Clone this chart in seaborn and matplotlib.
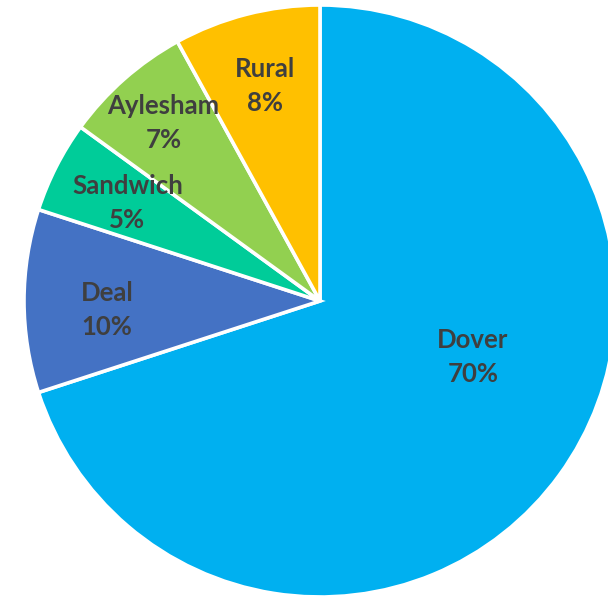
import matplotlib
matplotlib.use("Agg")
import matplotlib.pyplot as plt
import seaborn as sns
import numpy as np

categories = ["Dover", "Deal", "Sandwich", "Aylesham", "Rural"]
values = [70, 10, 5, 7, 8]
colors = ["#00B0F0", "#4472C4", "#00CC99", "#92D050", "#FFC000"]

sns.set_theme(style="white")
plt.rcParams['font.family'] = ['Lato', 'DejaVu Sans']

fig = plt.figure(figsize=(6.08, 6.0), dpi=100)
ax = fig.add_axes([0, 0, 1, 1])
wedges, _ = ax.pie(values, colors=colors, startangle=90, counterclock=False,
                   wedgeprops=dict(edgecolor="white", linewidth=2.6))

# label placement (radius fraction, angle offset in degrees)
label_r = [0.55, 0.72, 0.73, 0.80, 0.75]
label_da = [16, 2.5, 0, 0, 0]
for w, name, v, r, da in zip(wedges, categories, values, label_r, label_da):
    mid = np.deg2rad((w.theta1 + w.theta2) / 2 + da)
    ax.text(r * np.cos(mid), r * np.sin(mid), f"{name}\n{v}%",
            ha="center", va="center", fontsize=18.5, fontweight="bold",
            color="#3F3F3F", linespacing=1.5)

ax.set_xlim(-320 / 296, (608 - 320) / 296)
ax.set_ylim(-299 / 296, 301 / 296)
ax.set_aspect("auto")
ax.axis("off")
fig.savefig("out.png", dpi=100)
